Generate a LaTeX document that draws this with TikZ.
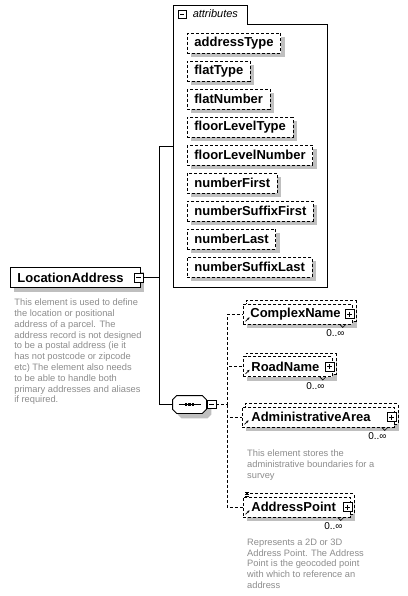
\documentclass[tikz,border=0pt]{standalone}
\usepackage{fontspec}
\setmainfont{Liberation Sans}
\usetikzlibrary{shadows,arrows.meta,positioning}
\pgfdeclarelayer{background}
\pgfsetlayers{background,main}

\tikzset{
  elname/.style={font=\fontsize{13}{13}\selectfont\bfseries},
  elbox/.style={draw, fill=white, elname, anchor=west, minimum height=20pt, inner sep=0pt},
  optbox/.style={elbox, dash pattern=on 3pt off 2pt, text width=#1, align=left},
  attbox/.style={draw, fill=white, elname, anchor=west, minimum height=20pt, inner ysep=0pt, inner xsep=7pt,
    dash pattern=on 3pt off 2pt, drop shadow={shadow xshift=4pt, shadow yshift=-4pt, fill=black!25, opacity=1}},
  backbox/.style={draw, fill=white, dash pattern=on 3pt off 2pt},
  shadowfill/.style={fill=black!25},
  conn/.style={dash pattern=on 3pt off 2pt},
  minussym/.style={draw, solid, fill=white, minimum size=9pt, inner sep=0pt, line width=0.7pt,
    path picture={\draw ([xshift=2pt]path picture bounding box.west) -- ([xshift=-2pt]path picture bounding box.east);}},
  plussym/.style={draw, solid, fill=white, minimum size=9pt, inner sep=0pt, line width=0.7pt,
    path picture={\draw ([xshift=2pt]path picture bounding box.west) -- ([xshift=-2pt]path picture bounding box.east)
      ([yshift=-2pt]path picture bounding box.north) -- ([yshift=2pt]path picture bounding box.south);}},
  occ/.style={font=\fontsize{10}{10}\selectfont, anchor=north east, inner sep=0pt},
  note/.style={font=\fontsize{9.3}{10.8}\selectfont, text=black!45, align=left, anchor=north west, inner sep=0pt},
  tablabel/.style={font=\fontsize{11}{11}\selectfont\itshape, inner sep=0pt},
  refarrow/.style={-{Stealth[length=2.5pt,width=2.5pt]}, line width=0.6pt},
}

\begin{document}
\begin{tikzpicture}[x=1pt, y=-1pt, line width=0.8pt]
\useasboundingbox (0,0) rectangle (407,596);

\node[elbox, text width=130pt, align=left, drop shadow={shadow xshift=4pt, shadow yshift=-4pt, fill=black!25, opacity=1}] (la) at (10,277.5) {\hspace*{7pt}LocationAddress};
\node[minussym] (lasym) at ([xshift=-2pt]la.east) {};
\node[note] (lanote) at (14,298.6) {This element is used to define\\the location or positional\\address of a parcel. The\\address record is not designed\\to be a postal address (ie it\\has not postcode or zipcode\\etc) The element also needs\\to be able to handle both\\primary addresses and aliases\\if required.};

\node[minimum width=154pt, minimum height=282pt, inner sep=0pt, anchor=north west] (attr) at (173,5) {};
\draw (attr.north west) -- ++(74,0) -- ++(0,19) -| (attr.south east) -- (attr.south west) -- cycle;
\node[minussym, minimum size=8pt] (attrsym) at ([shift={(9,9)}]attr.north west) {};
\node[tablabel, anchor=west, right=6pt of attrsym] (attrlabel) {attributes};
\foreach \n [count=\i from 0] in {addressType,flatType,flatNumber,floorLevelType,floorLevelNumber,numberFirst,numberSuffixFirst,numberLast,numberSuffixLast}
  \node[attbox] (att\i) at (187,43+28*\i) {\n};

\coordinate[right=16pt of lasym] (split);
\draw (lasym.east) -- (split);

\node[minimum width=33pt, minimum height=17pt, inner sep=0pt] (seq) at (189.5,404.5) {};
\fill[shadowfill, transform canvas={xshift=5pt, yshift=-5pt}] ([xshift=4pt]seq.north west) -- ([xshift=-4pt]seq.north east) -- ([yshift=-4pt]seq.north east) -- ([yshift=4pt]seq.south east) -- ([xshift=-4pt]seq.south east) -- ([xshift=4pt]seq.south west) -- ([yshift=4pt]seq.south west) -- ([yshift=-4pt]seq.north west) -- cycle;
\filldraw[fill=white] ([xshift=4pt]seq.north west) -- ([xshift=-4pt]seq.north east) -- ([yshift=-4pt]seq.north east) -- ([yshift=4pt]seq.south east) -- ([xshift=-4pt]seq.south east) -- ([xshift=4pt]seq.south west) -- ([yshift=4pt]seq.south west) -- ([yshift=-4pt]seq.north west) -- cycle;
\draw ([xshift=-11pt]seq.center) -- ([xshift=11pt]seq.center);
\foreach \d in {-3.5,0,3.5}
  \fill ([xshift=\d pt]seq.center) +(-1.3,-1.3) rectangle +(1.3,1.3);
\node[minussym, minimum width=9pt, minimum height=8pt] (seqsym) at (211.5,404.5) {};
\draw (seq.east) -- (seqsym.west);
\draw (attr.west) -| (split) |- (seq.west);

\coordinate[right=11pt of seqsym] (bus);
\draw[conn] (seqsym.east) -- (bus);

\node[optbox=109pt] (cn) at (243,314) {\hspace*{7pt}ComplexName};
\node[optbox=89pt] (rn) at (243,366.5) {\hspace*{8pt}RoadName};
\node[optbox=152pt] (aa) at (242,417) {\hspace*{9pt}AdministrativeArea};
\node[optbox=107pt] (ap) at (243,507) {\hspace*{8pt}AddressPoint};

\foreach \b in {cn,rn,aa,ap} {
  \begin{pgfonlayer}{background}
    \fill[shadowfill] ([shift={(4,4)}]\b.south west) rectangle ([shift={(4,4)}]\b.north east);
    \draw[backbox] ([shift={(3,-3)}]\b.south west) rectangle ([shift={(3,-3)}]\b.north east);
  \end{pgfonlayer}
  \node[plussym] (\b sym) at ([xshift=-3pt]\b.east) {};
  \draw[refarrow] ([shift={(2.5,-3)}]\b.south west) -- ++(4,-4);
  \draw[line width=0.6pt] ([xshift=-13pt]\b.south east) -- ++(3,3) -- ++(3,-3);
  \node[occ] (\b occ) at ([shift={(-8,5)}]\b.south east) {0..∞};
  \draw[conn] (bus) |- (\b.west);
}

\draw[line width=0.6pt] ([shift={(2,-4)}]ap.north west) -- ++(4,0) ([shift={(2,-2)}]ap.north west) -- ++(4,0) ([shift={(2,0)}]ap.north west) -- ++(4,0);

\node[note] (aanote) at (247,449.6) {This element stores the\\administrative boundaries for a\\survey};
\node[note] (apnote) at (247,538.6) {Represents a 2D or 3D\\Address Point. The Address\\Point is the geocoded point\\with which to reference an\\address};

\end{tikzpicture}
\end{document}
